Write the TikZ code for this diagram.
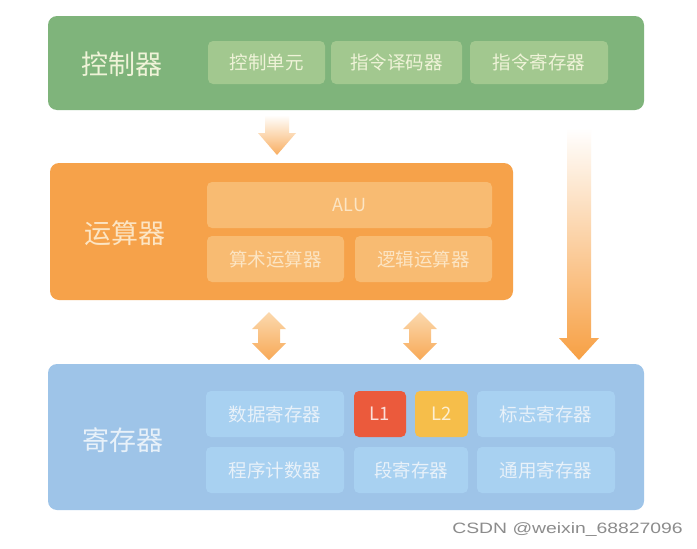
\documentclass[tikz,border=0pt]{standalone}
\usepackage{fontspec}
\newfontfamily\cjk{Noto Sans CJK SC}
\newfontfamily\wmfont{Liberation Sans}
\usetikzlibrary{calc}
\definecolor{gmain}{HTML}{7FB47B}
\definecolor{gsub}{HTML}{A2C88F}
\definecolor{gtext}{HTML}{EFF3D8}
\definecolor{omain}{HTML}{F6A24A}
\definecolor{osub}{HTML}{F8BB72}
\definecolor{otext}{HTML}{FCE5C4}
\definecolor{bmain}{HTML}{9EC4E8}
\definecolor{bsub}{HTML}{A8D1F1}
\definecolor{btext}{HTML}{E8F1F9}
\definecolor{lone}{HTML}{EB5A3C}
\definecolor{ltwo}{HTML}{F6BE4A}
\definecolor{arrlo}{HTML}{F7A044}
\definecolor{arrhi}{HTML}{FDF1DC}
\newcommand\downarr[6]{%
  \shade[#6] let \p1=(#1), \p2=(#2) in
    (\x1-#3,\y1) -- (\x1+#3,\y1) -- (\x1+#3,\y2+#5) -- (\x1+#4,\y2+#5) --
    (\x1,\y2) -- (\x1-#4,\y2+#5) -- (\x1-#3,\y2+#5) -- cycle;}
\newcommand\dblarr[6]{%
  \shade[#6] let \p1=(#1), \p2=(#2) in
    (\x1,\y1) -- (\x1+#4,\y1-#5) -- (\x1+#3,\y1-#5) -- (\x1+#3,\y2+#5) --
    (\x1+#4,\y2+#5) -- (\x1,\y2) -- (\x1-#4,\y2+#5) -- (\x1-#3,\y2+#5) --
    (\x1-#3,\y1-#5) -- (\x1-#4,\y1-#5) -- cycle;}
\begin{document}
\begin{tikzpicture}[x=1pt,y=-1pt,
  panel/.style={rounded corners=9pt, inner sep=0pt},
  subbox/.style={rounded corners=5pt, inner sep=0pt, font=\cjk\fontsize{18.5}{20}\selectfont},
  biglabel/.style={inner sep=0pt, font=\cjk\fontsize{27}{30}\selectfont},
  gsubbox/.style={subbox, fill=gsub, text=gtext, minimum height=43pt},
  osubbox/.style={subbox, fill=osub, text=otext, minimum height=46pt},
  bsubbox/.style={subbox, fill=bsub, text=btext, minimum height=46pt},
]
\useasboundingbox (0,0) rectangle (697,549);
\fill[white] (0,0) rectangle (697,549);

% arrows (drawn first)
\coordinate (a1s) at (277,115);
\coordinate (a1e) at (277,155);
\coordinate (a2s) at (269,312);
\coordinate (a2e) at (269,360);
\coordinate (a3s) at (420,312);
\coordinate (a3e) at (420,360);
\coordinate (a4s) at (579,128);
\coordinate (a4e) at (579,360);
\downarr{a1s}{a1e}{12pt}{19pt}{22pt}{top color=white, middle color=arrlo!35, bottom color=arrlo!85}
\dblarr{a2s}{a2e}{11pt}{17pt}{17pt}{top color=arrhi!70!arrlo, bottom color=arrlo!90}
\dblarr{a3s}{a3e}{11pt}{17pt}{17pt}{top color=arrhi!70!arrlo, bottom color=arrlo!90}
\downarr{a4s}{a4e}{12pt}{20pt}{22pt}{top color=white, middle color=arrlo!55, bottom color=arrlo}

% controller
\node[panel, fill=gmain, minimum width=596pt, minimum height=94pt] (ctl) at (346,63) {};
\node[biglabel, text=gtext] (ctllab) at (122,64) {控制器};
\node[gsubbox, minimum width=117pt] (cu) at (266.5,62.5) {控制单元};
\node[gsubbox, minimum width=131pt] (dec) at (396.5,62.5) {指令译码器};
\node[gsubbox, minimum width=138pt] (ir) at (539,62.5) {指令寄存器};

% ALU
\node[panel, fill=omain, minimum width=463pt, minimum height=137pt] (alu) at (281.5,231.5) {};
\node[biglabel, text=otext] (alulab) at (125,233) {运算器};
\node[osubbox, minimum width=285pt, font=\cjk\fontsize{18}{20}\selectfont] (alubox) at (349.5,205) {ALU};
\node[osubbox, minimum width=137pt] (arith) at (275.5,259) {算术运算器};
\node[osubbox, minimum width=137pt] (logic) at (423.5,259) {逻辑运算器};

% registers
\node[panel, fill=bmain, minimum width=596pt, minimum height=146pt] (reg) at (346,437) {};
\node[biglabel, text=btext] (reglab) at (123,440) {寄存器};
\node[bsubbox, minimum width=138pt] (dr) at (275,414) {数据寄存器};
\node[subbox, fill=lone, text=lone!20!white, minimum width=52pt, minimum height=46pt] (l1) at (380,414) {L1};
\node[subbox, fill=ltwo, text=ltwo!25!white, minimum width=53pt, minimum height=46pt] (l2) at (441.5,414) {L2};
\node[bsubbox, minimum width=138pt] (flag) at (546,414) {标志寄存器};
\node[bsubbox, minimum width=138pt] (pc) at (275,470) {程序计数器};
\node[bsubbox, minimum width=114pt] (seg) at (411,470) {段寄存器};
\node[bsubbox, minimum width=138pt] (gen) at (546,470) {通用寄存器};

% watermark
\node[anchor=east, inner sep=0pt, text=black!45, font=\wmfont\fontsize{15}{17}\selectfont] (wm) at (683,530) {\scalebox{1.29}[1]{CSDN @weixin\_68827096}};
\end{tikzpicture}
\end{document}
